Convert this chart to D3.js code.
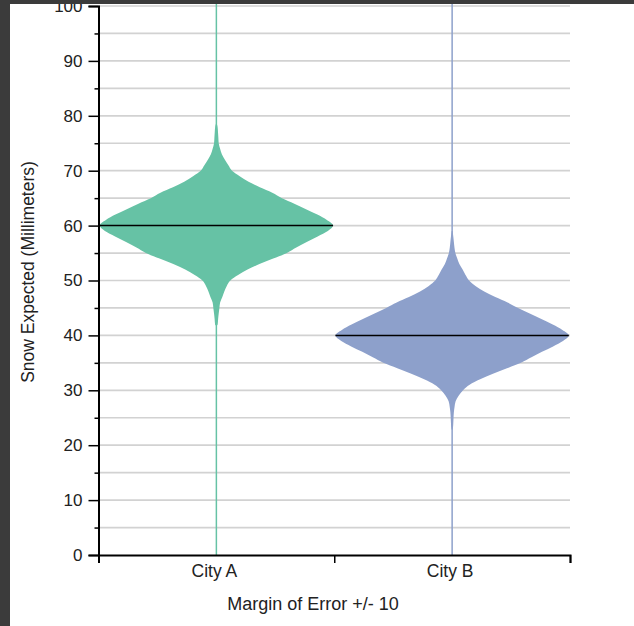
<!DOCTYPE html>
<html>
<head>
<meta charset="utf-8">
<script src="https://cdn.jsdelivr.net/npm/d3@7"></script>
<style>
  html, body { margin: 0; padding: 0; background: #ffffff; }
  svg { display: block; }
  text { font-family: "Liberation Sans", Arial, sans-serif; fill: #222; }
</style>
</head>
<body>
<svg id="chart" width="634" height="626"></svg>
<script>
// ---- data ----
const categories = ["City A", "City B"];
const medians = [60, 40];
const colors = ["#66c2a5", "#8da0cb"];

// density profile of City A (snow level in mm, relative density)
const snowLevelsA = [41.8, 42, 43, 44, 45, 46, 47, 48, 49, 50, 51, 52, 53, 54, 55, 56, 57, 58, 59, 60,
                     61, 62, 63, 64, 65, 66, 67, 68, 69, 70, 71, 72, 73, 74, 75, 76, 77, 78, 78.5];
const densityA = [0.004, 0.011, 0.015, 0.020, 0.026, 0.032, 0.051, 0.068, 0.089, 0.120, 0.186, 0.267,
                  0.369, 0.487, 0.604, 0.685, 0.774, 0.868, 0.955, 1.000,
                  0.947, 0.865, 0.768, 0.668, 0.562, 0.479, 0.372, 0.276, 0.200, 0.134, 0.103,
                  0.073, 0.047, 0.032, 0.020, 0.017, 0.014, 0.010, 0.004];

// density profile of City B
const snowLevelsB = [22.8, 23, 24, 25, 26, 27, 28, 29, 30, 31, 32, 33, 34, 35, 36, 37, 38, 39, 40,
                     41, 42, 43, 44, 45, 46, 47, 48, 49, 50, 51, 52, 53, 54, 55, 56, 57, 58, 59];
const densityB = [0.003, 0.006, 0.010, 0.012, 0.015, 0.021, 0.030, 0.056, 0.094, 0.150, 0.240, 0.350,
                  0.470, 0.590, 0.680, 0.770, 0.865, 0.950, 1.000,
                  0.945, 0.862, 0.765, 0.665, 0.565, 0.475, 0.370, 0.275, 0.200, 0.145, 0.115,
                  0.090, 0.062, 0.044, 0.028, 0.020, 0.015, 0.010, 0.004];

const yMajorTicks = [0, 10, 20, 30, 40, 50, 60, 70, 80, 90, 100];
const yMinorTicks = [5, 15, 25, 35, 45, 55, 65, 75, 85, 95];
const yTitle = "Snow Expected (Millimeters)";
const xTitle = "Margin of Error +/- 10";

// ---- layout ----
const svg = d3.select("#chart");
const plotLeft = 98.5, plotRight = 570, plotTop = 6, plotBottom = 555;

const y = d3.scaleLinear().domain([0, 100]).range([plotBottom, plotTop]);
const x = d3.scaleBand().domain(categories).range([plotLeft, plotRight]).padding(0);
const half = x.bandwidth() / 2;
const w = d3.scaleLinear().domain([0, 1]).range([0, half * 0.99]);

svg.append("rect").attr("width", 634).attr("height", 626).attr("fill", "#ffffff");

// gridlines (every 5)
const gridVals = yMajorTicks.concat(yMinorTicks).filter(v => v > 0);
svg.append("g").selectAll("line").data(gridVals).join("line")
  .attr("x1", plotLeft).attr("x2", plotRight)
  .attr("y1", d => y(d)).attr("y2", d => y(d))
  .attr("stroke", "#d2d2d2").attr("stroke-width", 1.7);

// category vertical lines
svg.append("g").selectAll("line").data(categories).join("line")
  .attr("x1", d => x(d) + half).attr("x2", d => x(d) + half)
  .attr("y1", y(0)).attr("y2", 0)
  .attr("stroke", (d, i) => colors[i]).attr("stroke-width", 1.5);

// violins
const profiles = [
  snowLevelsA.map((v, i) => ({ v, d: densityA[i] })),
  snowLevelsB.map((v, i) => ({ v, d: densityB[i] }))
];
categories.forEach((c, i) => {
  const cx = x(c) + half;
  const area = d3.area()
    .x0(p => cx - w(p.d)).x1(p => cx + w(p.d))
    .y(p => y(p.v))
    .curve(d3.curveMonotoneY);
  svg.append("path").datum(profiles[i])
    .attr("d", area).attr("fill", colors[i]).attr("stroke", "none");
  const maxD = d3.max(profiles[i], p => p.d);
  svg.append("line")
    .attr("x1", cx - w(maxD)).attr("x2", cx + w(maxD))
    .attr("y1", y(medians[i])).attr("y2", y(medians[i]))
    .attr("stroke", "#000").attr("stroke-width", 1.5);
});

// y axis
const yAxis = d3.axisLeft(y).tickValues(yMajorTicks).tickSize(10).tickPadding(6).tickFormat(d3.format("d"));
const gy = svg.append("g").attr("transform", `translate(${plotLeft},0)`).call(yAxis);
gy.select(".domain").attr("stroke", "#000").attr("stroke-width", 2);
gy.selectAll(".tick line").attr("stroke", "#000").attr("stroke-width", 1.5);
gy.selectAll(".tick text").attr("font-size", 17).attr("font-family", "Liberation Sans, Arial, sans-serif").attr("fill", "#222");
const gyMinor = svg.append("g").attr("transform", `translate(${plotLeft},0)`)
  .call(d3.axisLeft(y).tickValues(yMinorTicks).tickSize(4).tickFormat(""));
gyMinor.select(".domain").remove();
gyMinor.selectAll(".tick line").attr("stroke", "#000").attr("stroke-width", 1.5);

// x axis: boundary ticks + category labels
const xb = d3.scaleLinear().domain([0, categories.length]).range([plotLeft, plotRight]);
const gx = svg.append("g").attr("transform", `translate(0,${plotBottom})`)
  .call(d3.axisBottom(xb).tickValues(d3.range(categories.length + 1)).tickSize(8).tickFormat(""));
gx.select(".domain").attr("stroke", "#000").attr("stroke-width", 2);
gx.selectAll(".tick line").attr("stroke", "#000").attr("stroke-width", 1.5);
const gxl = svg.append("g").attr("transform", `translate(0,${plotBottom})`)
  .call(d3.axisBottom(x).tickSize(0).tickPadding(10));
gxl.select(".domain").remove();
gxl.selectAll(".tick text").attr("font-size", 17.5).attr("font-family", "Liberation Sans, Arial, sans-serif").attr("fill", "#222")
  .attr("dx", -2);

// titles
svg.append("text").attr("x", 313).attr("y", 610).attr("text-anchor", "middle")
  .attr("font-size", 18).text(xTitle);
svg.append("text").attr("transform", "translate(34,272) rotate(-90)").attr("text-anchor", "middle")
  .attr("font-size", 17.5).text(yTitle);

// dark frame (window edges)
svg.append("rect").attr("x", 0).attr("y", 0).attr("width", 634).attr("height", 4).attr("fill", "#3b3b3b");
svg.append("rect").attr("x", 0).attr("y", 0).attr("width", 10).attr("height", 626).attr("fill", "#3b3b3b");
</script>
</body>
</html>
